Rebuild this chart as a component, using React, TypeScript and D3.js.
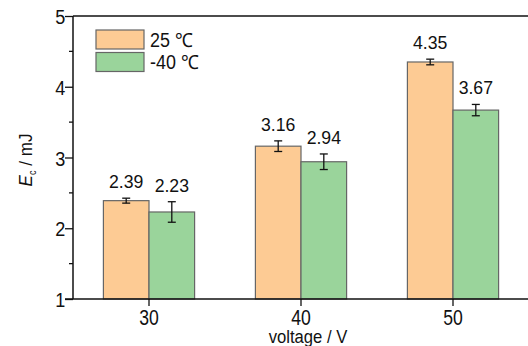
import * as d3 from "d3";
import {useRef, useEffect} from "react";

const voltages = ["30", "40", "50"];
const series = ["25 ℃", "-40 ℃"];
const values25 = [2.39, 3.16, 4.35];
const values40 = [2.23, 2.94, 3.67];
const err25 = [0.035, 0.075, 0.04];
const err40 = [0.145, 0.11, 0.08];
const yTicks = [1, 2, 3, 4, 5];
const yMinorTicks = [1.5, 2.5, 3.5, 4.5];
const colors = ["#fdcb94", "#9ad49b"];

const FONT = "'Liberation Sans', Arial, sans-serif";

// narrow-looking text: squeeze horizontally around the anchor point
function NText({x, y, size, sx = 0.9, anchor = "start", children}: any) {
  return (
    <g transform={`translate(${x},${y}) scale(${sx},1)`}>
      <text textAnchor={anchor} fontFamily={FONT} fontSize={size} fill="#111">{children}</text>
    </g>
  );
}

export default function App({
  width = 528,
  height = 346,
  marginTop = 16,
  marginLeft = 73,
  marginBottom = 47,
}) {
  const gx = useRef(null);
  const gy = useRef(null);
  const x = d3.scaleBand(voltages, [marginLeft, marginLeft + 456]).paddingInner(0.4).paddingOuter(0.2);
  const y = d3.scaleLinear([1, 5], [height - marginBottom, marginTop]);
  const bw = x.bandwidth() / 2;
  const rows = voltages.map((v, i) => [
    {v, s: 0, val: values25[i], err: err25[i]},
    {v, s: 1, val: values40[i], err: err40[i]},
  ]).flat();

  useEffect(() => {
    const g = d3.select(gx.current);
    g.call(d3.axisBottom(x).tickSize(7).tickSizeOuter(0));
    g.select(".domain").remove();
    g.selectAll("text").attr("font-family", FONT).attr("font-size", 22).attr("fill", "#111")
      .attr("y", 26).attr("dy", 0).attr("transform", "scale(0.8,1)");
    g.selectAll("line").attr("stroke", "#111").attr("stroke-width", 1.3);
  }, [x]);
  useEffect(() => {
    const g = d3.select(gy.current);
    g.call(d3.axisLeft(y).tickValues(yTicks).tickFormat(d3.format("d")).tickSize(8).tickSizeOuter(0));
    g.select(".domain").remove();
    g.selectAll("text").attr("font-family", FONT).attr("font-size", 21).attr("fill", "#111")
      .attr("x", -9).attr("dy", "0.36em").attr("transform", "scale(0.86,1)");
    g.selectAll("line").attr("stroke", "#111").attr("stroke-width", 1.3);
  }, [y]);

  const y0 = y(1);
  return (
    <svg width={width} height={height} style={{position: "absolute", left: 0, top: 0}}>
      {rows.map((d, i) => {
        const bx = x(d.v)! + d.s * bw;
        const cx = bx + bw / 2;
        return (
          <g key={i}>
            <rect x={bx} y={y(d.val)} width={bw} height={y0 - y(d.val)} fill={colors[d.s]} stroke="#666" strokeWidth={1.2} />
            <line x1={cx} x2={cx} y1={y(d.val + d.err)} y2={y(d.val - d.err)} stroke="#111" strokeWidth={1.3} />
            <line x1={cx - 4} x2={cx + 4} y1={y(d.val + d.err)} y2={y(d.val + d.err)} stroke="#111" strokeWidth={1.3} />
            <line x1={cx - 4} x2={cx + 4} y1={y(d.val - d.err)} y2={y(d.val - d.err)} stroke="#111" strokeWidth={1.3} />
            <NText x={cx} y={y(d.val + d.err) - 10} size={19} sx={0.93} anchor="middle">
              {d.val.toFixed(2)}
            </NText>
          </g>
        );
      })}
      {yMinorTicks.map((t) => (
        <line key={t} x1={marginLeft - 4} x2={marginLeft} y1={y(t)} y2={y(t)} stroke="#111" strokeWidth={1.3} />
      ))}
      <line x1={marginLeft} x2={marginLeft} y1={marginTop} y2={y0} stroke="#111" strokeWidth={1.5} />
      <line x1={marginLeft} x2={width} y1={marginTop} y2={marginTop} stroke="#111" strokeWidth={1.5} />
      <line x1={marginLeft - 8} x2={width} y1={y0} y2={y0} stroke="#111" strokeWidth={1.5} />
      <g ref={gx} transform={`translate(0,${y0})`} />
      <g ref={gy} transform={`translate(${marginLeft},0)`} />
      {series.map((s, i) => (
        <g key={s} transform={`translate(96,${30 + i * 22.5})`}>
          <rect width={48} height={19} fill={colors[i]} stroke="#666" strokeWidth={1.2} />
          <NText x={54} y={16.5} size={19.5} sx={0.92}>{s}</NText>
        </g>
      ))}
      <NText x={308} y={342.5} size={18.5} sx={0.9} anchor="middle">voltage / V</NText>
      <g transform="translate(32,160) rotate(-90) scale(0.9,1)">
        <text textAnchor="middle" fontFamily={FONT} fontSize={19} fill="#111">
          <tspan fontStyle="italic">E</tspan>
          <tspan fontSize={10} dy={4}>c</tspan>
          <tspan dy={-4}> / mJ</tspan>
        </text>
      </g>
    </svg>
  );
}
